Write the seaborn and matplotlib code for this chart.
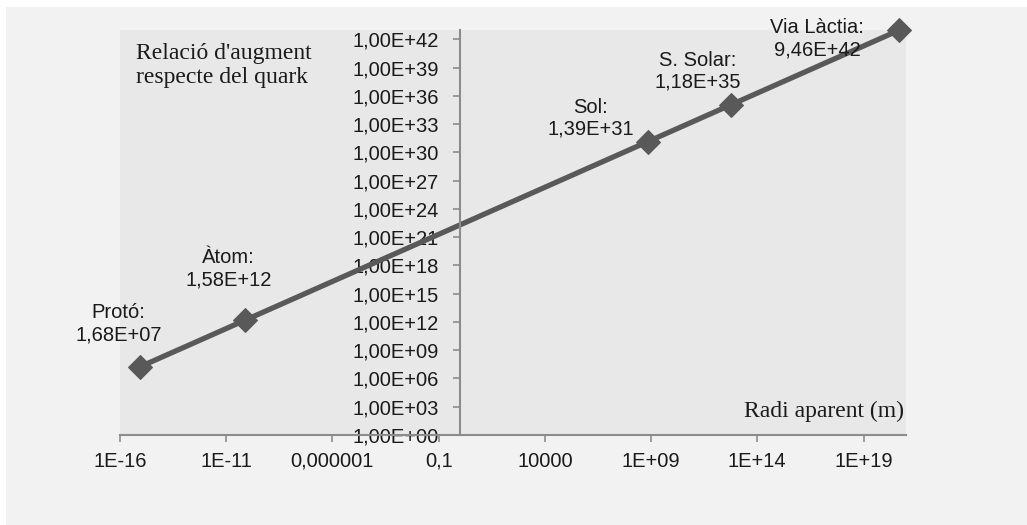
import matplotlib
matplotlib.use("Agg")
import matplotlib.pyplot as plt
import seaborn as sns
import pandas as pd
import numpy as np
from matplotlib.patches import Rectangle
from matplotlib.ticker import FixedLocator, FixedFormatter, NullLocator

# ---- data ----
objects = ["Protó", "Àtom", "Sol", "S. Solar", "Via Làctia"]
radius_m = [8.4e-16, 7.9e-11, 6.95e8, 5.9e12, 4.73e20]
ratio = [1.68e7, 1.58e12, 1.39e31, 1.18e35, 9.46e42]
ratio_text = ["1,68E+07", "1,58E+12", "1,39E+31", "1,18E+35", "9,46E+42"]

x_ticks = [1e-16, 1e-11, 1e-6, 1e-1, 1e4, 1e9, 1e14, 1e19]
x_tick_labels = ["1E-16", "1E-11", "0,000001", "0,1", "10000", "1E+09", "1E+14", "1E+19"]
y_ticks = [10.0 ** e for e in range(0, 43, 3)]
y_tick_labels = ["1,00E+%02d" % e for e in range(0, 43, 3)]

# label offsets (points) for data labels
label_offsets = [(-15, 31), (-12, 37), (-41, 17), (-24, 24), (-59, -6)]

df = pd.DataFrame({"obj": objects, "r": radius_m, "ratio": ratio})

sns.set_theme(style="white")
plt.rcParams["font.family"] = ["Liberation Sans", "DejaVu Sans"]

W, H = 1027, 525
fig = plt.figure(figsize=(W / 100, H / 100), dpi=100, facecolor="white")
bg = Rectangle((6 / W, 0), 1 - 6 / W, 1 - 7 / H, transform=fig.transFigure,
               facecolor="#f2f2f2", edgecolor="none", zorder=-10)
fig.add_artist(bg)

left, right, top, bottom = 120, 906, 30, 435
ax = fig.add_axes([left / W, 1 - bottom / H, (right - left) / W, (bottom - top) / H])
ax.set_zorder(1)
ax.set_facecolor("#e8e8e8")

ax.set_xscale("log")
ax.set_yscale("log")
ax.set_xlim(1e-16, 1e21)
ax.set_ylim(1, 1e43)

sns.lineplot(data=df, x="r", y="ratio", ax=ax, color="#595959", linewidth=3.8,
             marker="D", markersize=12, markeredgecolor="#595959", sort=False, legend=False,
             clip_on=False)

for xv, yv, name, txt, off in zip(radius_m, ratio, objects, ratio_text, label_offsets):
    ax.annotate(name + ":\n" + txt, (xv, yv), xytext=off, textcoords="offset points",
                ha="center", va="center", fontsize=14.5, color="#1a1a1a", linespacing=1.2)

# axes styling
for s in ["top", "right"]:
    ax.spines[s].set_visible(False)
ax.spines["left"].set_position(("data", 1))
ax.spines["left"].set_color("#8c8c8c")
ax.spines["left"].set_linewidth(1.5)
ax.spines["bottom"].set_color("#8c8c8c")
ax.spines["bottom"].set_linewidth(1.5)

ax.xaxis.set_major_locator(FixedLocator(x_ticks))
ax.xaxis.set_major_formatter(FixedFormatter(x_tick_labels))
ax.xaxis.set_minor_locator(NullLocator())
ax.yaxis.set_major_locator(FixedLocator(y_ticks))
ax.yaxis.set_major_formatter(FixedFormatter(y_tick_labels))
ax.yaxis.set_minor_locator(NullLocator())

ax.tick_params(axis="x", which="major", direction="out", length=5, width=1.2, color="#8c8c8c",
               labelsize=14.5, labelcolor="#1a1a1a", pad=7, bottom=True)
ax.tick_params(axis="y", which="major", direction="out", length=5, width=1.2, color="#8c8c8c",
               labelsize=14.5, labelcolor="#1a1a1a", pad=10, left=True)
ax.set_xlabel("")
ax.set_ylabel("")

serif = ["Liberation Serif", "DejaVu Serif"]
ax.text(0.02, 0.967, "Relació d'augment\nrespecte del quark", transform=ax.transAxes,
        ha="left", va="top", fontsize=17, family=serif, color="#1a1a1a", linespacing=1.15)
ax.text(0.997, 0.033, "Radi aparent (m)", transform=ax.transAxes,
        ha="right", va="bottom", fontsize=17, family=serif, color="#1a1a1a")

fig.savefig("out.png", dpi=100, facecolor=fig.get_facecolor())
